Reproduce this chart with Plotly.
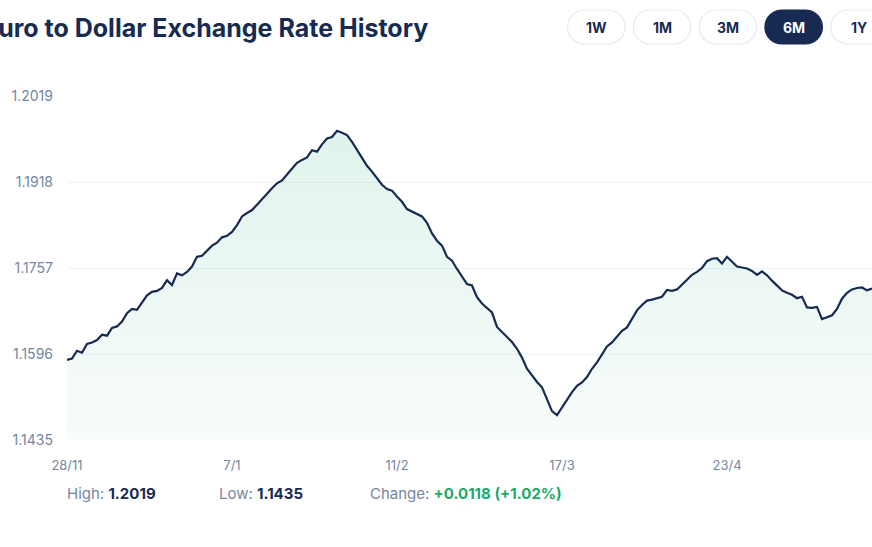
import plotly.graph_objects as go
import numpy as np

# ---- data ----
rates = [
    1.1548, 1.1551, 1.1567, 1.1563, 1.1581, 1.1584, 1.1589, 1.1600, 1.1598, 1.1614,
    1.1617, 1.1627, 1.1644, 1.1653, 1.1651, 1.1665, 1.1681, 1.1688, 1.1690, 1.1696,
    1.1712, 1.1702, 1.1726, 1.1722, 1.1729, 1.1740, 1.1760, 1.1762, 1.1772, 1.1783,
    1.1789, 1.1800, 1.1803, 1.1811, 1.1825, 1.1843, 1.1850, 1.1856, 1.1867, 1.1879,
    1.1889, 1.1901, 1.1911, 1.1917, 1.1929, 1.1941, 1.1953, 1.1959, 1.1964, 1.1979,
    1.1976, 1.1991, 1.2003, 1.2006, 1.2019, 1.2015, 1.2010, 1.1996, 1.1980, 1.1964,
    1.1947, 1.1935, 1.1922, 1.1908, 1.1899, 1.1896, 1.1884, 1.1873, 1.1858, 1.1853,
    1.1848, 1.1843, 1.1830, 1.1808, 1.1793, 1.1783, 1.1760, 1.1752, 1.1735, 1.1719,
    1.1704, 1.1701, 1.1677, 1.1664, 1.1654, 1.1646, 1.1616, 1.1606, 1.1595, 1.1585,
    1.1571, 1.1553, 1.1530, 1.1516, 1.1503, 1.1492, 1.1468, 1.1443, 1.1435, 1.1451,
    1.1466, 1.1482, 1.1495, 1.1502, 1.1513, 1.1530, 1.1543, 1.1560, 1.1576, 1.1584,
    1.1595, 1.1608, 1.1615, 1.1632, 1.1650, 1.1661, 1.1670, 1.1672, 1.1675, 1.1678,
    1.1692, 1.1690, 1.1693, 1.1703, 1.1712, 1.1723, 1.1729, 1.1737, 1.1751, 1.1756,
    1.1757, 1.1746, 1.1760, 1.1751, 1.1740, 1.1738, 1.1736, 1.1731, 1.1723, 1.1730,
    1.1722, 1.1711, 1.1701, 1.1691, 1.1686, 1.1682, 1.1675, 1.1678, 1.1656, 1.1655,
    1.1657, 1.1632, 1.1636, 1.1640, 1.1653, 1.1674, 1.1686, 1.1693, 1.1696, 1.1697,
    1.1691, 1.1695,
]
x_idx = list(range(len(rates)))

x_tick_idx = [0, 33, 66, 99, 132]
x_tick_labels = ["28/11", "7/1", "11/2", "17/3", "23/4"]
y_tick_labels = ["1.1435", "1.1596", "1.1757", "1.1918", "1.2019"]

ranges = ["1W", "1M", "3M", "6M", "1Y"]
active_range = "6M"

high_val = "1.2019"
low_val = "1.1435"
change_val = "+0.0118 (+1.02%)"

title = "Euro to Dollar Exchange Rate History"

# ---- layout geometry ----
W, H = 872, 547
L, R, T, B = 67, 0, 96, 107
PW, PH = W - L - R, H - T - B

NAVY = "#172b52"
GRAY = "#7586a3"
GREEN = "#22a86b"
GRID = "#eef2f7"

y_lo, y_hi = 1.13837, 1.20903
y_ticks = list(np.linspace(y_lo, y_hi, 5))


def px(xp):
    return (xp - L) / PW


def py(yp):
    return (H - B - yp) / PH


fig = go.Figure()
fig.add_trace(go.Scatter(
    x=x_idx, y=rates, mode="lines",
    line=dict(color=NAVY, width=2.2),
    fill="tozeroy",
    fillgradient=dict(
        type="vertical", start=y_lo, stop=max(rates),
        colorscale=[[0, "rgba(22,160,110,0.03)"], [1, "rgba(22,160,110,0.13)"]],
    ),
    hoverinfo="skip",
))

shapes = []
annotations = []

# title
annotations.append(dict(
    text="<b>" + title + "</b>", xref="paper", yref="paper",
    x=px(430), y=py(28), xanchor="right", yanchor="middle", showarrow=False,
    font=dict(family="Inter", size=25, color=NAVY),
))

# range buttons
k = 0.5523
bw, bh, step, first_left, top = 57.5, 34, 65.8, 567.5, 10
for i, lab in enumerate(ranges):
    x0 = first_left + i * step
    x1 = x0 + bw
    y0, y1 = top, top + bh
    r = bh / 2
    m = (y0 + y1) / 2
    pts = [
        ("M", [(x0 + r, y0)]),
        ("L", [(x1 - r, y0)]),
        ("C", [(x1 - r + k * r, y0), (x1, m - k * r), (x1, m)]),
        ("C", [(x1, m + k * r), (x1 - r + k * r, y1), (x1 - r, y1)]),
        ("L", [(x0 + r, y1)]),
        ("C", [(x0 + r - k * r, y1), (x0, m + k * r), (x0, m)]),
        ("C", [(x0, m - k * r), (x0 + r - k * r, y0), (x0 + r, y0)]),
    ]
    path = " ".join(
        cmd + " " + " ".join(f"{px(a):.5f},{py(b):.5f}" for a, b in p) for cmd, p in pts
    ) + " Z"
    active = lab == active_range
    shapes.append(dict(
        type="path", path=path, xref="paper", yref="paper",
        fillcolor=NAVY if active else "white",
        line=dict(color=NAVY if active else "#e5ecf4", width=1.2),
        layer="above",
    ))
    annotations.append(dict(
        text="<b>" + lab + "</b>", xref="paper", yref="paper",
        x=px((x0 + x1) / 2), y=py(m), xanchor="center", yanchor="middle",
        showarrow=False,
        font=dict(family="Inter", size=14, color="white" if active else NAVY),
    ))

# stats row
stats = [
    (65, "High: ", high_val, NAVY),
    (217, "Low: ", low_val, NAVY),
    (368, "Change: ", change_val, GREEN),
]
for xp, lab, val, col in stats:
    annotations.append(dict(
        text=f"<span style='color:{GRAY}'>{lab}</span><b><span style='color:{col}'>{val}</span></b>",
        xref="paper", yref="paper", x=px(xp), y=py(493),
        xanchor="left", yanchor="middle", showarrow=False,
        font=dict(family="Inter", size=15, color=GRAY),
    ))

fig.update_layout(
    width=W, height=H,
    margin=dict(l=L, r=R, t=T, b=B, pad=0),
    paper_bgcolor="white", plot_bgcolor="white",
    showlegend=False,
    shapes=shapes, annotations=annotations,
    xaxis=dict(
        range=[0, len(rates) - 1], tickmode="array",
        tickvals=x_tick_idx, ticktext=x_tick_labels,
        showgrid=False, zeroline=False, showline=False, ticks="",
        ticklabelstandoff=16,
        tickfont=dict(family="Inter", size=13, color=GRAY),
    ),
    yaxis=dict(
        range=[y_lo, y_hi], tickmode="array",
        tickvals=y_ticks, ticktext=y_tick_labels,
        showgrid=True, gridcolor=GRID, gridwidth=1,
        zeroline=False, showline=False, ticks="",
        ticklabelstandoff=13,
        tickfont=dict(family="Inter", size=14, color=GRAY),
    ),
)

fig.write_html("out.html")
